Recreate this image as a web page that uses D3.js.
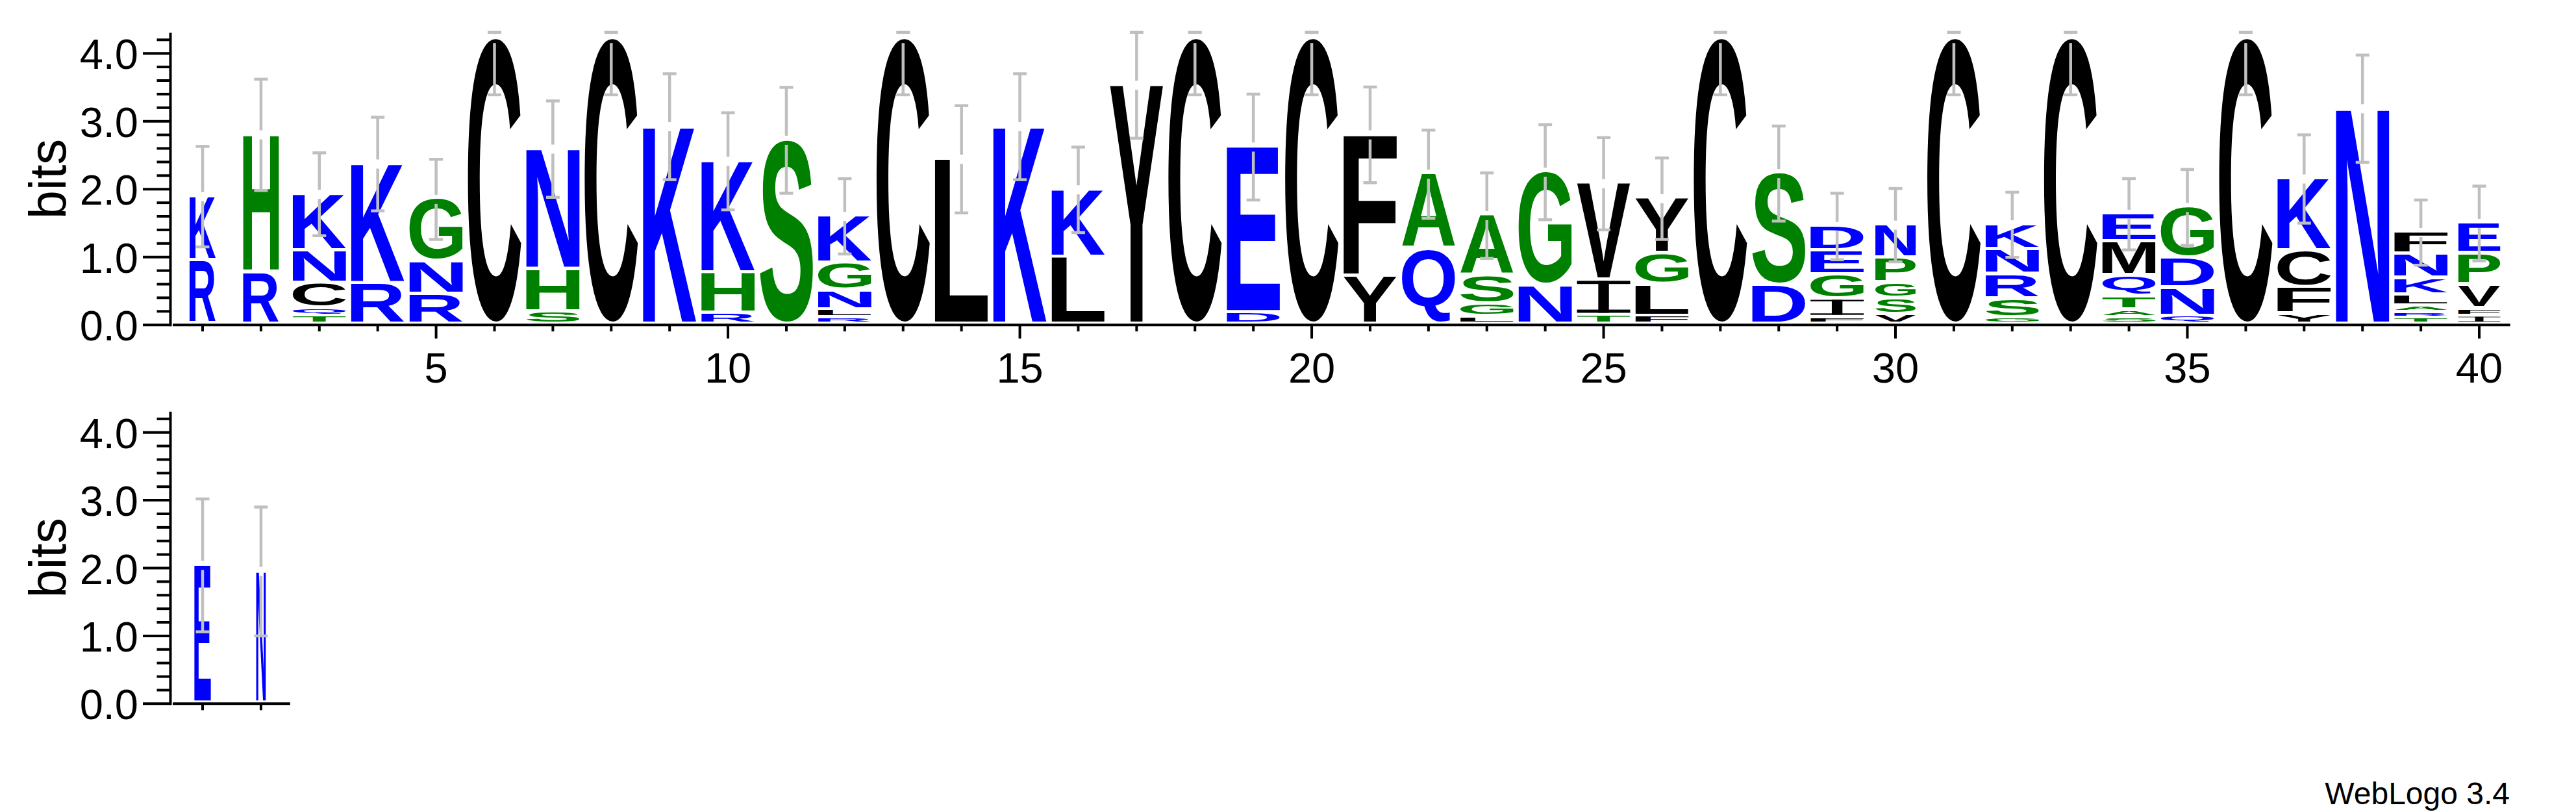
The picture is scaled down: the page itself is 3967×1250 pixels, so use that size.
<!DOCTYPE html>
<html><head><meta charset="utf-8">
<script src="https://cdn.jsdelivr.net/npm/d3@7"></script>
<style>html,body{margin:0;padding:0;background:#fff}svg{display:block}</style>
</head><body>
<script>
// ---------- data ----------
const positions = d3.range(1, 41);
const stackLetters = ["RK","RH","TQCNK","RK","RNG","C","SHN","C","K","RHK","S","RLNGK","C","L","K","LK","Y","C","DE","C",
  "YF","QA","LGSA","NG","TIV","FLGY","C","DS","FIGED","VSGPN","C","GSRNK","C","SATQME","QNDG","C","YFCK","N","TRALKNF","IFVPE"];
const stackHeights = [
  [0.94,0.95],[0.77,2.03],[0.12,0.115,0.37,0.48,0.84],[0.60,1.77],[0.44,0.485,0.925],
  [4.22],[0.18,0.63,1.78],[4.22],[2.92],[0.16,0.60,1.65],
  [2.72],[0.10,0.115,0.285,0.40,0.70],[4.22],[2.44],[2.92],
  [0.99,1.00],[3.53],[4.22],[0.17,2.45],[4.22],
  [0.71,2.09],[1.11,1.11],[0.11,0.19,0.41,0.90],[0.57,1.68],[0.13,0.52,1.43],
  [0.12,0.47,0.455,0.815],[4.22],[0.57,1.66],[0.10,0.27,0.36,0.35,0.37],[0.14,0.24,0.23,0.37,0.49],
  [4.22],[0.095,0.28,0.36,0.37,0.37],[4.22],[0.10,0.11,0.20,0.31,0.50,0.41],[0.12,0.42,0.44,0.75],
  [4.22],[0.15,0.39,0.54,1.07],[3.185],[0.10,0.08,0.09,0.16,0.25,0.35,0.33],[0.12,0.115,0.345,0.46,0.455]
];
const stackWidthFraction = [0.49,0.67,1,1,1,1,1,1,1,1,1,1,1,1,1,1,1,1,1,1,
  1,1,1,1,1,1,1,1,1,0.76,1,1,1,1,1,1,1,1,1,0.79];
const errorHalfWidths = [0.74,0.82,0.61,0.69,0.59,0.83,0.71,0.83,0.78,0.715,0.78,0.555,0.83,0.79,0.78,0.63,0.78,0.83,0.78,0.83,
  0.705,0.65,0.63,0.70,0.68,0.60,0.83,0.70,0.49,0.54,0.83,0.48,0.83,0.525,0.56,0.83,0.65,0.79,0.48,0.55];

const lowerPositions = [1, 2];
const lowerLetters = ["E","N"];
const lowerHeights = [[2.04],[1.95]];
const lowerWidthFraction = [0.31, 0.18];
const lowerErrorHalfWidths = [0.98, 0.95];

const yMajorTicks = [0, 1, 2, 3, 4];
const yTickLabels = ["0.0","1.0","2.0","3.0","4.0"];
const xMajorTicks = [5, 10, 15, 20, 25, 30, 35, 40];
const xTickLabels = ["5","10","15","20","25","30","35","40"];
const hydrophilic = "RKDENQ", neutral = "SGHTAP", hydrophobic = "YVMCLFIW";
const maxBits = 4.31;

// ---------- layout ----------
const W = 3967, H = 1250;
const svg = d3.select("body").append("svg").attr("width", W).attr("height", H)
  .style("background", "#fff");

const x = d3.scaleLinear().domain([1, 40]).range([312, 3818]);
const fullWidth = 82;
const panels = [
  {y: d3.scaleLinear().domain([0, 4]).range([500.2, 82.2]), axisTop: 50.5, xEnd: 40.53, labels: true,
   pos: positions, letters: stackLetters, heights: stackHeights, widths: stackWidthFraction, errs: errorHalfWidths},
  {y: d3.scaleLinear().domain([0, 4]).range([1083.3, 665.7]), axisTop: 633.7, xEnd: 2.5, labels: false,
   pos: lowerPositions, letters: lowerLetters, heights: lowerHeights, widths: lowerWidthFraction, errs: lowerErrorHalfWidths}
];

const color = c => hydrophilic.includes(c) ? "#0000ff" : neutral.includes(c) ? "#008000" : "#000000";

const ctx = document.createElement("canvas").getContext("2d");
ctx.font = 'bold 200px "Liberation Sans"';
const mcache = {};
function metrics(ch) {
  if (!mcache[ch]) {
    const m = ctx.measureText(ch);
    mcache[ch] = {l: m.actualBoundingBoxLeft, r: m.actualBoundingBoxRight, a: m.actualBoundingBoxAscent, d: m.actualBoundingBoxDescent};
  }
  return mcache[ch];
}
function drawGlyph(g, ch, x0, y0, w, h) {
  const col = color(ch);
  if (h <= 0 || w <= 0) return;
  if (ch === "I") {
    const bar = Math.max(h * 0.1, 0.6), stem = w * 0.2;
    g.append("rect").attr("x", x0).attr("y", y0).attr("width", w).attr("height", bar).attr("fill", col);
    g.append("rect").attr("x", x0).attr("y", y0 + h - bar).attr("width", w).attr("height", bar).attr("fill", col);
    g.append("rect").attr("x", x0 + (w - stem) / 2).attr("y", y0).attr("width", stem).attr("height", h).attr("fill", col);
    return;
  }
  const m = metrics(ch);
  const sx = w / (m.l + m.r), sy = h / (m.a + m.d);
  g.append("text").text(ch)
    .attr("font-family", '"Liberation Sans", Arial, sans-serif').attr("font-weight", "bold").attr("font-size", 200)
    .attr("fill", col)
    .attr("transform", `translate(${x0},${y0}) scale(${sx},${sy}) translate(${m.l},${m.a})`);
}

const gap = 5.1, ebGap = 7, capHalf = 10.5;

panels.forEach(p => {
  const y = p.y;
  const g = svg.append("g");
  // stacks
  p.pos.forEach((pos, i) => {
    const w = fullWidth * p.widths[i];
    const x0 = x(pos) - w / 2;
    let cum = 0;
    const letters = p.letters[i].split("");
    letters.forEach((ch, j) => {
      const hBits = p.heights[i][j];
      const yb = y(cum), yt = y(cum + hBits);
      const slot = yb - yt;
      const gh = slot - Math.min(gap, slot * 0.5);
      drawGlyph(g, ch, x0, yt, w, gh);
      cum += hBits;
    });
    // error bar
    const err = p.errs[i];
    const yc = y(cum), yUp = y(Math.min(cum + err, maxBits)), yLo = y(cum - err);
    const eb = g.append("g").attr("stroke", "#bfbfbf").attr("stroke-width", 4.5);
    const cx = x(pos);
    if (yc - ebGap > yUp) eb.append("line").attr("x1", cx).attr("x2", cx).attr("y1", yc - ebGap).attr("y2", yUp);
    else eb.append("line").attr("x1", cx).attr("x2", cx).attr("y1", yc - 2).attr("y2", yUp);
    eb.append("line").attr("x1", cx - capHalf).attr("x2", cx + capHalf).attr("y1", yUp).attr("y2", yUp);
    eb.append("line").attr("x1", cx).attr("x2", cx).attr("y1", yc + ebGap).attr("y2", yLo);
    eb.append("line").attr("x1", cx - capHalf).attr("x2", cx + capHalf).attr("y1", yLo).attr("y2", yLo);
  });

  // y axis
  const ax = g.append("g").attr("stroke", "#000").attr("stroke-width", 4);
  ax.append("line").attr("x1", 262.5).attr("x2", 262.5).attr("y1", p.axisTop).attr("y2", y(0) + 2);
  const minor = d3.range(0, 22).map(k => k * 0.2).filter(v => Math.abs(v - Math.round(v)) > 1e-6 && v < 4.25);
  ax.selectAll(".ymin").data(minor).join("line")
    .attr("x1", 241.5).attr("x2", 262.5).attr("y1", d => y(d)).attr("y2", d => y(d));
  ax.selectAll(".ymaj").data(yMajorTicks).join("line")
    .attr("x1", 220).attr("x2", 262.5).attr("y1", d => y(d)).attr("y2", d => y(d));
  g.selectAll(".ylab").data(yMajorTicks).join("text")
    .attr("x", 213).attr("y", d => y(d) + 24).attr("text-anchor", "end")
    .attr("font-family", '"Liberation Sans", Arial, sans-serif').attr("font-size", 65)
    .text((d, i) => yTickLabels[i]);
  // bits label
  g.append("text").text("bits")
    .attr("transform", `translate(101,${y(2.15)}) rotate(-90)`)
    .attr("text-anchor", "middle")
    .attr("font-family", '"Liberation Sans", Arial, sans-serif').attr("font-size", 79);

  // x axis
  ax.append("line").attr("x1", 266).attr("x2", x(p.xEnd)).attr("y1", y(0)).attr("y2", y(0));
  const xt = p.labels ? positions : p.pos;
  ax.selectAll(".xt").data(xt).join("line")
    .attr("x1", d => x(d)).attr("x2", d => x(d))
    .attr("y1", y(0)).attr("y2", d => y(0) + ((p.labels && xMajorTicks.includes(d)) ? 21 : 10));
  if (p.labels) {
    g.selectAll(".xlab").data(xMajorTicks).join("text")
      .attr("x", d => x(d)).attr("y", 589).attr("text-anchor", "middle")
      .attr("font-family", '"Liberation Sans", Arial, sans-serif').attr("font-size", 65)
      .text((d, i) => xTickLabels[i]);
  }
});

svg.append("text").text("WebLogo 3.4")
  .attr("x", 3865).attr("y", 1238).attr("text-anchor", "end")
  .attr("font-family", '"Liberation Sans", Arial, sans-serif').attr("font-size", 48);
</script>
</body></html>
